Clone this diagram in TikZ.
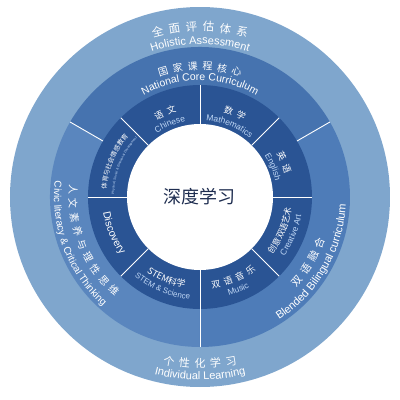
\documentclass[tikz,border=0pt]{standalone}
\usepackage{fontspec}
\setmainfont{Liberation Sans}
\newfontfamily\cjk[WordSpace=2]{Noto Sans CJK SC}
\usetikzlibrary{decorations.text}
\definecolor{ringout}{RGB}{127,166,205}
\definecolor{midtop}{RGB}{70,115,175}
\definecolor{midleft}{RGB}{90,134,190}
\definecolor{midright}{RGB}{78,124,184}
\definecolor{ringin}{RGB}{42,84,148}
\definecolor{enblue}{RGB}{190,214,245}
\definecolor{navy}{RGB}{30,45,80}

\begin{document}
\begin{tikzpicture}[x=1pt,y=1pt,
  ringtext/.style={decorate,decoration={text along path,text align=center,text={#1}}},
  divider/.style={white,line width=0.9pt}]
  \useasboundingbox (-200,-203) rectangle (200,197);
  % rings
  \fill[ringout] (0,0) circle (190);
  \fill[midtop] (0,0) -- (30:150) arc[start angle=30,end angle=150,radius=150] -- cycle;
  \fill[midleft] (0,0) -- (150:150) arc[start angle=150,end angle=270,radius=150] -- cycle;
  \fill[midright] (0,0) -- (270:150) arc[start angle=270,end angle=390,radius=150] -- cycle;
  \fill[ringin] (0,0) circle (112);
  \foreach \a in {0,45,...,315} \draw[divider] (\a:73) -- (\a:112);
  \foreach \a in {30,150,270} \draw[divider] (\a:112) -- (\a:150);
  \fill[white] (0,0) circle (73);
  \node[text=navy] (core) at (0,0) {\cjk\fontsize{18}{20}\selectfont 深度学习};
  % outer ring
  \path[ringtext={|\cjk\fontsize{11.5}{14}\selectfont\color{white}|全 面 评 估 体 系}] (130:166) arc[start angle=130,end angle=50,radius=166];
  \path[ringtext={|\fontsize{11}{13}\selectfont\color{white}|Holistic Assessment}] (135:153) arc[start angle=135,end angle=45,radius=153];
  \path[ringtext={|\cjk\fontsize{11}{13}\selectfont\color{white}|个 性 化 学 习}] (230:171) arc[start angle=230,end angle=310,radius=171];
  \path[ringtext={|\fontsize{11}{13}\selectfont\color{white}|Individual Learning}] (225:183) arc[start angle=225,end angle=315,radius=183];
  % middle ring
  \path[ringtext={|\cjk\fontsize{10}{12}\selectfont\color{white}|国 家 课 程 核 心}] (135:127) arc[start angle=135,end angle=45,radius=127];
  \path[ringtext={|\fontsize{10.5}{12}\selectfont\color{white}|National Core Curriculum}] (140:116.5) arc[start angle=140,end angle=40,radius=116.5];
  \path[ringtext={|\cjk\fontsize{10}{12}\selectfont\color{white}|人 文 素 养 与 理 性 思 维}] (152:131) arc[start angle=152,end angle=252,radius=131];
  \path[ringtext={|\fontsize{10}{12}\selectfont\color{white}|Civic literacy {\&} Critical Thinking}] (151:146) arc[start angle=151,end angle=251,radius=146];
  \path[ringtext={|\cjk\fontsize{10.5}{12}\selectfont\color{white}|双 语 融 合}] (289:132) arc[start angle=289,end angle=369,radius=132];
  \path[ringtext={|\fontsize{11}{13}\selectfont\color{white}|Blended Bilingual curriculum}] (280:146) arc[start angle=280,end angle=380,radius=146];
  % inner ring, upper half
  \path[ringtext={|\cjk\fontsize{9}{11}\selectfont\color{white}|语 文}] (135:88) arc[start angle=135,end angle=90,radius=88];
  \path[ringtext={|\fontsize{8.5}{10}\selectfont\color{enblue}|Chinese}] (135:77) arc[start angle=135,end angle=90,radius=77];
  \path[ringtext={|\cjk\fontsize{9}{11}\selectfont\color{white}|数 学}] (90:88) arc[start angle=90,end angle=45,radius=88];
  \path[ringtext={|\fontsize{8.5}{10}\selectfont\color{enblue}|Mathematics}] (95:77) arc[start angle=95,end angle=40,radius=77];
  \path[ringtext={|\cjk\fontsize{9}{11}\selectfont\color{white}|英 语}] (45:88) arc[start angle=45,end angle=0,radius=88];
  \path[ringtext={|\fontsize{8.5}{10}\selectfont\color{enblue}|English}] (45:77) arc[start angle=45,end angle=0,radius=77];
  \path[ringtext={|\cjk\fontsize{6.5}{8}\selectfont\color{white}|体育与社会情感教育}] (180:94) arc[start angle=180,end angle=135,radius=94];
  \path[ringtext={|\fontsize{3.3}{4}\selectfont\color{enblue}|Physical, Social {\&} Emotional Development}] (182:86) arc[start angle=182,end angle=133,radius=86];
  % inner ring, lower half
  \path[ringtext={|\cjk\fontsize{8.5}{10}\selectfont\color{white}|创意双语艺术}] (315:92) arc[start angle=315,end angle=360,radius=92];
  \path[ringtext={|\fontsize{8.5}{10}\selectfont\color{enblue}|Creative Art}] (315:103) arc[start angle=315,end angle=360,radius=103];
  \path[ringtext={|\cjk\fontsize{9}{11}\selectfont\color{white}|双 语 音 乐}] (270:92) arc[start angle=270,end angle=315,radius=92];
  \path[ringtext={|\fontsize{8.5}{10}\selectfont\color{enblue}|Music}] (270:103) arc[start angle=270,end angle=315,radius=103];
  \path[ringtext={|\cjk\fontsize{9}{11}\selectfont\color{white}|STEM科学}] (225:92) arc[start angle=225,end angle=270,radius=92];
  \path[ringtext={|\fontsize{8}{10}\selectfont\color{enblue}|STEM {\&} Science}] (222:103) arc[start angle=222,end angle=273,radius=103];
  \path[ringtext={|\fontsize{10.5}{12}\selectfont\color{white}|Discovery}] (180:98) arc[start angle=180,end angle=225,radius=98];
\end{tikzpicture}
\end{document}
